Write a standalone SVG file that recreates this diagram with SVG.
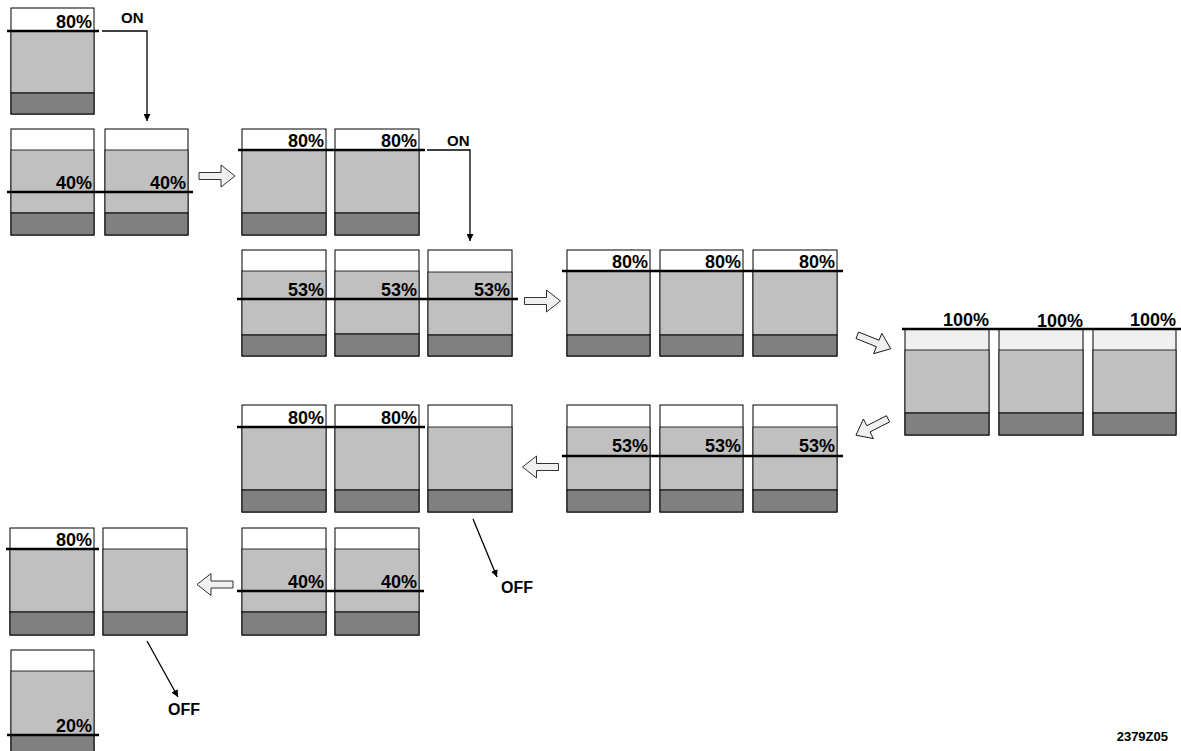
<svg xmlns="http://www.w3.org/2000/svg" xmlns:xlink="http://www.w3.org/1999/xlink" width="1181" height="751" viewBox="0 0 1181 751">
<style>
.w{fill:#ffffff;stroke:#000;stroke-width:1}
.l{fill:#f0f0f0;stroke:#000;stroke-width:1}
.g{fill:#c0c0c0;stroke:#000;stroke-width:0.8}
.d{fill:#808080;stroke:#000;stroke-width:1}
.lv{stroke:#000;stroke-width:2.5;fill:none}
.p{font-family:"Liberation Sans",Arial,sans-serif;font-weight:bold;font-size:18px;text-anchor:end;fill:#000}
.t{font-family:"Liberation Sans",Arial,sans-serif;font-weight:bold;font-size:15px;fill:#000}
.o{font-family:"Liberation Sans",Arial,sans-serif;font-weight:bold;font-size:16px;fill:#000}
.c{stroke:#000;stroke-width:1.3;fill:none}
.ha{fill:#f0f0f0;stroke:#000;stroke-width:0.8}
</style>
<defs>
<marker id="ah" viewBox="0 0 10 10" refX="10" refY="5" markerWidth="7" markerHeight="7" orient="auto" markerUnits="userSpaceOnUse">
<path d="M0,0 L10,5 L0,10 Z" fill="#000"/>
</marker>
<path id="harrow" d="M-18,-3.5 L4,-3.5 L4,-11 L18,0 L4,11 L4,3.5 L-18,3.5 Z"/>
</defs>
<rect width="1181" height="751" fill="#fff"/>

<g id="connectors">
<path class="c" d="M102,31 H147 V121" marker-end="url(#ah)"/>
<path class="c" d="M427,150 H470 V241" marker-end="url(#ah)"/>
<line class="c" x1="473" y1="519" x2="497" y2="577" marker-end="url(#ah)"/>
<line class="c" x1="147" y1="641" x2="178" y2="697" marker-end="url(#ah)"/>
<use xlink:href="#harrow" class="ha" transform="translate(217,176)"/>
<use xlink:href="#harrow" class="ha" transform="translate(542.5,301)"/>
<use xlink:href="#harrow" class="ha" transform="translate(874,342) rotate(22)"/>
<use xlink:href="#harrow" class="ha" transform="translate(872,427) rotate(153)"/>
<use xlink:href="#harrow" class="ha" transform="translate(540.5,467) rotate(180)"/>
<use xlink:href="#harrow" class="ha" transform="translate(215,584.5) rotate(180)"/>
<text class="t" x="121" y="23">ON</text>
<text class="t" x="447" y="146">ON</text>
<text class="o" x="501" y="593">OFF</text>
<text class="o" x="168" y="715">OFF</text>
</g>

<g id="state1">
<rect class="w" x="11" y="8" width="83" height="106"/>
<rect class="g" x="11" y="31" width="83" height="62"/>
<rect class="d" x="11" y="93" width="83" height="21"/>
<line class="lv" x1="7" y1="31" x2="99" y2="31"/>
<text class="p" x="92" y="28">80%</text>
</g>

<g id="state2">
<rect class="w" x="11" y="129" width="83" height="106"/>
<rect class="g" x="11" y="150" width="83" height="63"/>
<rect class="d" x="11" y="213" width="83" height="22"/>
<rect class="w" x="105" y="129" width="83" height="106"/>
<rect class="g" x="105" y="150" width="83" height="63"/>
<rect class="d" x="105" y="213" width="83" height="22"/>
<line class="lv" x1="7" y1="192" x2="193" y2="192"/>
<text class="p" x="92" y="189">40%</text>
<text class="p" x="186" y="189">40%</text>
</g>

<g id="state3">
<rect class="w" x="242" y="129" width="84" height="106"/>
<rect class="g" x="242" y="150" width="84" height="63"/>
<rect class="d" x="242" y="213" width="84" height="22"/>
<rect class="w" x="335" y="129" width="84" height="106"/>
<rect class="g" x="335" y="150" width="84" height="63"/>
<rect class="d" x="335" y="213" width="84" height="22"/>
<line class="lv" x1="238" y1="150" x2="425" y2="150"/>
<text class="p" x="324" y="147">80%</text>
<text class="p" x="417" y="147">80%</text>
</g>

<g id="state4">
<rect class="w" x="242" y="250" width="84" height="106"/>
<rect class="g" x="242" y="271" width="84" height="64"/>
<rect class="d" x="242" y="335" width="84" height="21"/>
<rect class="w" x="335" y="250" width="84" height="106"/>
<rect class="g" x="335" y="271" width="84" height="63"/>
<rect class="d" x="335" y="334" width="84" height="22"/>
<rect class="w" x="428" y="250" width="84" height="106"/>
<rect class="g" x="428" y="272" width="84" height="63"/>
<rect class="d" x="428" y="335" width="84" height="21"/>
<line class="lv" x1="237" y1="299" x2="518" y2="299"/>
<text class="p" x="324" y="296">53%</text>
<text class="p" x="417" y="296">53%</text>
<text class="p" x="510" y="296">53%</text>
</g>

<g id="state5">
<rect class="w" x="567" y="250" width="83" height="106"/>
<rect class="g" x="567" y="271" width="83" height="64"/>
<rect class="d" x="567" y="335" width="83" height="21"/>
<rect class="w" x="660" y="250" width="83" height="106"/>
<rect class="g" x="660" y="271" width="83" height="64"/>
<rect class="d" x="660" y="335" width="83" height="21"/>
<rect class="w" x="753" y="250" width="84" height="106"/>
<rect class="g" x="753" y="271" width="84" height="64"/>
<rect class="d" x="753" y="335" width="84" height="21"/>
<line class="lv" x1="562" y1="271" x2="843" y2="271"/>
<text class="p" x="648" y="268">80%</text>
<text class="p" x="741" y="268">80%</text>
<text class="p" x="835" y="268">80%</text>
</g>

<g id="state6">
<rect class="l" x="905" y="329" width="84" height="106"/>
<rect class="g" x="905" y="350" width="84" height="63"/>
<rect class="d" x="905" y="413" width="84" height="22"/>
<rect class="l" x="999" y="329" width="84" height="106"/>
<rect class="g" x="999" y="350" width="84" height="63"/>
<rect class="d" x="999" y="413" width="84" height="22"/>
<rect class="l" x="1093" y="329" width="83" height="106"/>
<rect class="g" x="1093" y="350" width="83" height="63"/>
<rect class="d" x="1093" y="413" width="83" height="22"/>
<line class="lv" x1="902" y1="329" x2="1181" y2="329"/>
<text class="p" x="989" y="326">100%</text>
<text class="p" x="1083" y="327">100%</text>
<text class="p" x="1176" y="326">100%</text>
</g>

<g id="state7">
<rect class="w" x="567" y="405" width="83" height="107"/>
<rect class="g" x="567" y="427" width="83" height="63"/>
<rect class="d" x="567" y="490" width="83" height="22"/>
<rect class="w" x="660" y="405" width="83" height="107"/>
<rect class="g" x="660" y="427" width="83" height="63"/>
<rect class="d" x="660" y="490" width="83" height="22"/>
<rect class="w" x="753" y="405" width="84" height="107"/>
<rect class="g" x="753" y="427" width="84" height="63"/>
<rect class="d" x="753" y="490" width="84" height="22"/>
<line class="lv" x1="562" y1="456" x2="843" y2="456"/>
<text class="p" x="648" y="452">53%</text>
<text class="p" x="741" y="452">53%</text>
<text class="p" x="835" y="452">53%</text>
</g>

<g id="state8">
<rect class="w" x="242" y="405" width="84" height="107"/>
<rect class="g" x="242" y="427" width="84" height="63"/>
<rect class="d" x="242" y="490" width="84" height="22"/>
<rect class="w" x="335" y="405" width="84" height="107"/>
<rect class="g" x="335" y="427" width="84" height="63"/>
<rect class="d" x="335" y="490" width="84" height="22"/>
<rect class="w" x="428" y="405" width="84" height="107"/>
<rect class="g" x="428" y="427" width="84" height="63"/>
<rect class="d" x="428" y="490" width="84" height="22"/>
<line class="lv" x1="237" y1="427" x2="425" y2="427"/>
<text class="p" x="324" y="424">80%</text>
<text class="p" x="417" y="424">80%</text>
</g>

<g id="state9">
<rect class="w" x="242" y="528" width="84" height="107"/>
<rect class="g" x="242" y="549" width="84" height="63"/>
<rect class="d" x="242" y="612" width="84" height="23"/>
<rect class="w" x="335" y="528" width="84" height="107"/>
<rect class="g" x="335" y="549" width="84" height="63"/>
<rect class="d" x="335" y="612" width="84" height="23"/>
<line class="lv" x1="237" y1="591" x2="424" y2="591"/>
<text class="p" x="324" y="588">40%</text>
<text class="p" x="417" y="588">40%</text>
</g>

<g id="state10">
<rect class="w" x="10" y="528" width="84" height="107"/>
<rect class="g" x="10" y="549" width="84" height="63"/>
<rect class="d" x="10" y="612" width="84" height="23"/>
<rect class="w" x="103" y="528" width="84" height="107"/>
<rect class="g" x="103" y="549" width="84" height="63"/>
<rect class="d" x="103" y="612" width="84" height="23"/>
<line class="lv" x1="6" y1="549" x2="99" y2="549"/>
<text class="p" x="92" y="546">80%</text>
</g>

<g id="state11">
<rect class="w" x="11" y="650" width="83" height="110"/>
<rect class="g" x="11" y="671" width="83" height="64"/>
<rect class="d" x="11" y="735" width="83" height="25"/>
<line class="lv" x1="7" y1="735" x2="99" y2="735"/>
<text class="p" x="92" y="732">20%</text>
</g>

<text id="ref" x="1168" y="741" style="font-family:'Liberation Sans',Arial,sans-serif;font-weight:bold;font-size:13px;text-anchor:end">2379Z05</text>
</svg>
